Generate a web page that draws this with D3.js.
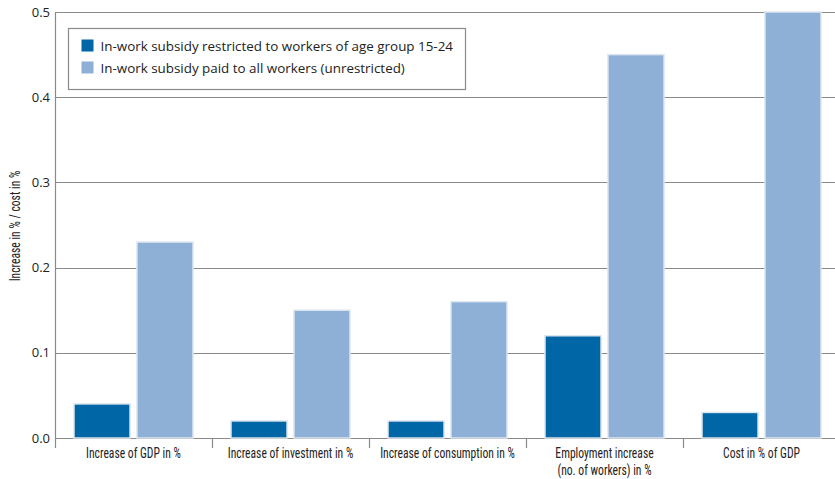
<!DOCTYPE html>
<html>
<head>
<meta charset="utf-8">
<script src="https://cdn.jsdelivr.net/npm/d3@7"></script>
<style>
  body { margin: 0; background: #fff; }
  svg { display: block; }
  .tick-label { font-family: "Open Sans", "Noto Sans", sans-serif; font-size: 13px; fill: #222; }
  .cat-label { font-family: "Liberation Sans Narrow", "Roboto Condensed", sans-serif; font-size: 14px; fill: #222; }
  .legend-text { font-family: "Open Sans", "Noto Sans", sans-serif; font-size: 13.4px; fill: #222; }
</style>
</head>
<body>
<div id="chart"></div>
<script>
// data
var categories = [
    ['Increase of GDP in %'],
    ['Increase of investment in %'],
    ['Increase of consumption in %'],
    ['Employment increase', '(no. of workers) in %'],
    ['Cost in % of GDP']
];
var seriesNames = [
    'In-work subsidy restricted to workers of age group 15-24',
    'In-work subsidy paid to all workers (unrestricted)'
];
var restricted = [0.04, 0.02, 0.02, 0.12, 0.03];
var unrestricted = [0.23, 0.15, 0.16, 0.45, 0.50];
var yTicks = [0.0, 0.1, 0.2, 0.3, 0.4, 0.5];
var colors = ['#0066a6', '#8eb0d6'];

var _width = 835,
    _height = 479,
    _left = 55,
    _right = 840,
    _top = 12,
    _bottom = 438,
    _squeeze = 0.83; // condensed look for category labels

var svg = d3.select('#chart').append('svg')
    .attr('width', _width)
    .attr('height', _height);

var x = d3.scaleBand()
    .domain(d3.range(categories.length))
    .range([_left, _right])
    .paddingInner(0)
    .paddingOuter(0);

var xInner = d3.scaleBand()
    .domain([0, 1])
    .range([19, x.bandwidth() - 19])
    .paddingInner(0.11);

var y = d3.scaleLinear()
    .domain([0, 0.5])
    .range([_bottom, _top]);

// GRID
// ----------------------------------------------------------------
svg.append('g').selectAll('line')
    .data(yTicks)
    .enter().append('line')
    .attr('x1', _left)
    .attr('x2', _width)
    .attr('y1', function (d) { return Math.round(y(d)) + 0.5; })
    .attr('y2', function (d) { return Math.round(y(d)) + 0.5; })
    .attr('stroke', '#8a8a8a')
    .attr('stroke-width', 1.2);

svg.append('g').selectAll('text')
    .data(yTicks)
    .enter().append('text')
    .attr('class', 'tick-label')
    .attr('x', 50)
    .attr('y', function (d) { return y(d) + 4.5; })
    .attr('text-anchor', 'end')
    .text(function (d) { return d.toFixed(1); });

// BARS
// ----------------------------------------------------------------
var series = [restricted, unrestricted];
series.forEach(function (vals, s) {
    svg.append('g').selectAll('rect')
        .data(vals)
        .enter().append('rect')
        .attr('x', function (d, i) { return x(i) + xInner(s); })
        .attr('y', function (d) { return y(d); })
        .attr('width', xInner.bandwidth())
        .attr('height', function (d) { return y(0) - y(d); })
        .attr('fill', colors[s])
        .attr('stroke', '#dde6f0')
        .attr('stroke-width', 1.5);
});

// AXES
// ----------------------------------------------------------------
svg.append('line')
    .attr('x1', _left + 0.5).attr('x2', _left + 0.5)
    .attr('y1', _top).attr('y2', _bottom + 10)
    .attr('stroke', '#8a8a8a').attr('stroke-width', 1.2);

svg.append('g').selectAll('line')
    .data(d3.range(1, categories.length))
    .enter().append('line')
    .attr('x1', function (d) { return Math.round(x(d)) + 0.5; })
    .attr('x2', function (d) { return Math.round(x(d)) + 0.5; })
    .attr('y1', _bottom)
    .attr('y2', _bottom + 10)
    .attr('stroke', '#8a8a8a').attr('stroke-width', 1.2);

var catLabels = svg.append('g').selectAll('text')
    .data(categories)
    .enter().append('text')
    .attr('class', 'cat-label')
    .attr('text-anchor', 'middle')
    .attr('transform', function (d, i) {
        return 'translate(' + (x(i) + x.bandwidth() / 2) + ',' + (_bottom + 20) + ') scale(' + _squeeze + ',1)';
    });
catLabels.selectAll('tspan')
    .data(function (d) { return d; })
    .enter().append('tspan')
    .attr('x', 0)
    .attr('dy', function (d, i) { return i === 0 ? 0 : 17; })
    .text(function (d) { return d; });

svg.append('text')
    .attr('class', 'cat-label')
    .attr('text-anchor', 'middle')
    .attr('transform', 'translate(20,' + 226 + ') rotate(-90) scale(' + _squeeze + ',1)')
    .text('Increase in % / cost in %');

// LEGEND
// ----------------------------------------------------------------
var gLegend = svg.append('g').attr('transform', 'translate(68.5,28.5)');
gLegend.append('rect')
    .attr('width', 397)
    .attr('height', 61)
    .attr('fill', '#fff')
    .attr('stroke', '#8a8a8a')
    .attr('stroke-width', 1.2);

var gItems = gLegend.selectAll('.item')
    .data(seriesNames)
    .enter().append('g')
    .attr('class', 'item')
    .attr('transform', function (d, i) { return 'translate(13,' + (11 + i * 22) + ')'; });
gItems.append('rect')
    .attr('width', 12)
    .attr('height', 12)
    .attr('fill', function (d, i) { return colors[i]; });
gItems.append('text')
    .attr('class', 'legend-text')
    .attr('x', 19)
    .attr('y', 11)
    .text(function (d) { return d; });
</script>
</body>
</html>
